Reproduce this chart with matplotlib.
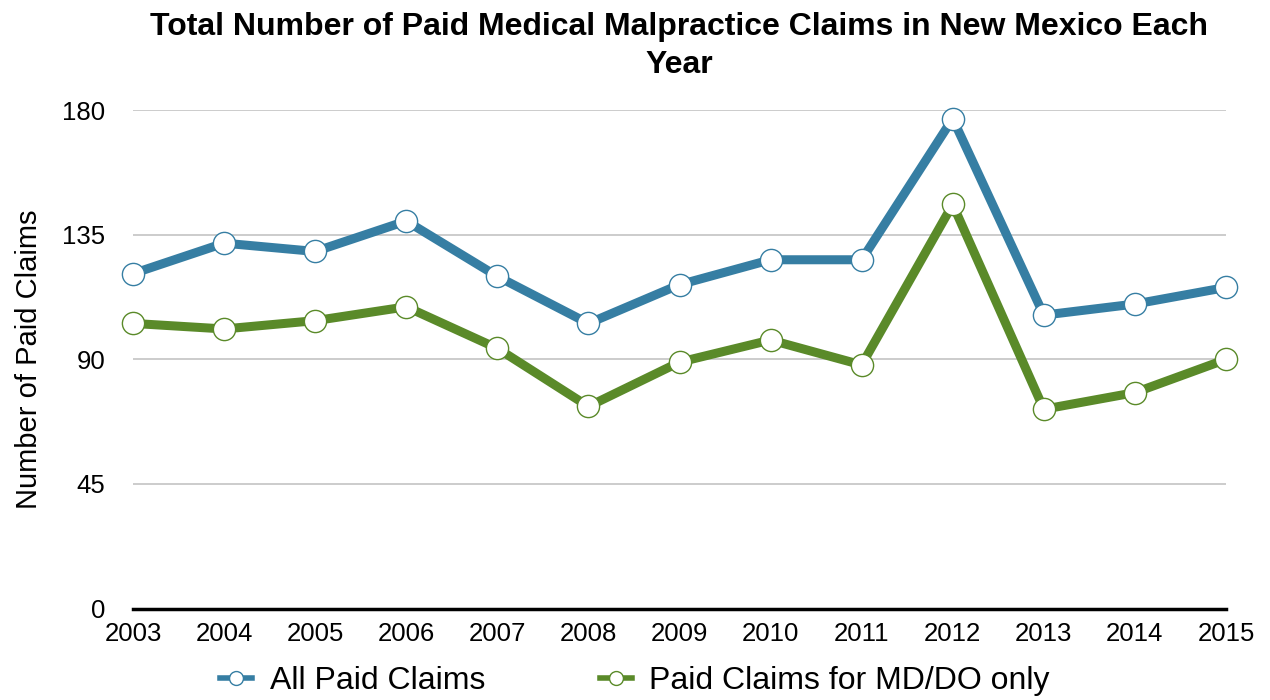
import matplotlib.pyplot as plt
from matplotlib.lines import Line2D

years = [2003, 2004, 2005, 2006, 2007, 2008, 2009, 2010, 2011, 2012, 2013, 2014, 2015]
all_claims = [121, 132, 129, 140, 120, 103, 117, 126, 126, 177, 106, 110, 116]
mddo_claims = [103, 101, 104, 109, 94, 73, 89, 97, 88, 146, 72, 78, 90]
y_ticks = [0, 45, 90, 135, 180]

blue = '#367ea3'
green = '#5a8a29'

plt.rcParams['font.family'] = ['Liberation Sans', 'DejaVu Sans']

fig = plt.figure(figsize=(12.7, 7), dpi=100)
ax = fig.add_axes([133 / 1270, 1 - 608.5 / 700, (1226 - 133) / 1270, (608.5 - 110.3) / 700])

for vals, col in [(all_claims, blue), (mddo_claims, green)]:
    ax.plot(years, vals, color=col, linewidth=6.5, solid_capstyle='round', zorder=3,
            clip_on=False)
    ax.plot(years, vals, linestyle='none', marker='o', markersize=16,
            markerfacecolor='white', markeredgecolor=col, markeredgewidth=1.0,
            zorder=4, clip_on=False)

ax.set_xlim(2003, 2015)
ax.set_ylim(0, 180)
ax.set_xticks(years)
ax.set_xticklabels([str(y) for y in years], fontsize=18.5)
ax.set_yticks(y_ticks)
ax.set_yticklabels([str(t) for t in y_ticks], fontsize=18.5)
ax.tick_params(length=0)
ax.tick_params(axis='y', pad=20)
ax.tick_params(axis='x', pad=10)

ax.grid(axis='y', color='#c4c4c4', linewidth=1.2)
ax.set_axisbelow(True)
for s in ['left', 'right', 'top']:
    ax.spines[s].set_visible(False)
ax.spines['bottom'].set_linewidth(2.5)
ax.spines['bottom'].set_color('black')

ax.set_ylabel('Number of Paid Claims', fontsize=21, labelpad=14)
ax.set_title('Total Number of Paid Medical Malpractice Claims in New Mexico Each\nYear',
             fontsize=23, fontweight='bold', pad=27, linespacing=1.35)

handles = [
    Line2D([0], [0], color=blue, linewidth=4, marker='o', markersize=10,
           markerfacecolor='white', markeredgecolor=blue),
    Line2D([0], [0], color=green, linewidth=4, marker='o', markersize=10,
           markerfacecolor='white', markeredgecolor=green),
]
fig.legend(handles, ['All Paid Claims', 'Paid Claims for MD/DO only'],
           loc='lower center', bbox_to_anchor=(0.5, -0.036), ncol=2, frameon=False,
           fontsize=23, handlelength=1.0, columnspacing=3.6, handletextpad=0.55)

fig.savefig('out.png', dpi=100)
